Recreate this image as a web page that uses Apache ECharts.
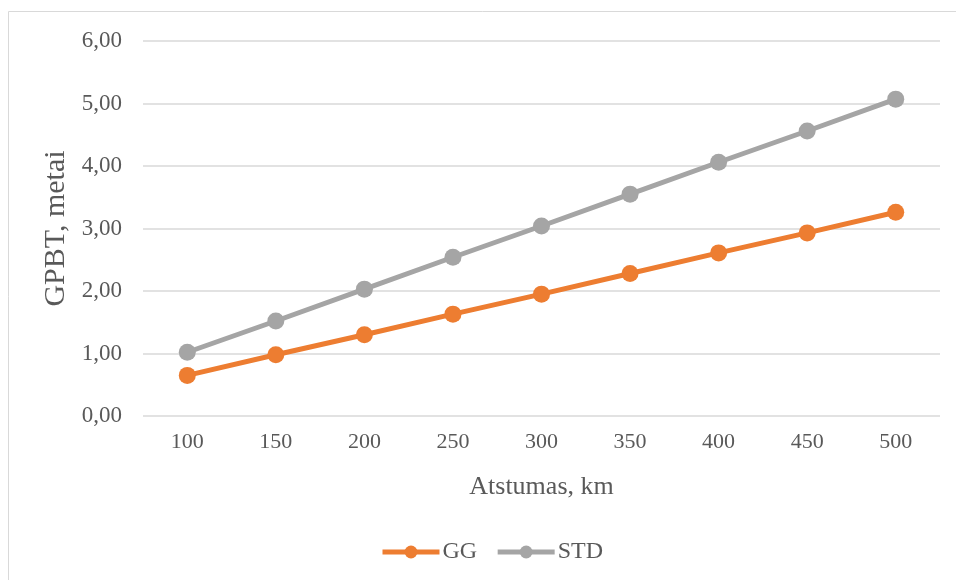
<!DOCTYPE html>
<html><head><meta charset="utf-8">
<script src="https://cdn.jsdelivr.net/npm/echarts@6/dist/echarts.min.js"></script>
<style>html,body{margin:0;padding:0;background:#fff}#c{width:956px;height:580px}</style>
</head><body><div id="c"></div>
<script>
const categories = ['100','150','200','250','300','350','400','450','500'];
const gg = [0.65, 0.98, 1.30, 1.63, 1.95, 2.28, 2.61, 2.93, 3.26];
const std = [1.02, 1.52, 2.03, 2.54, 3.04, 3.55, 4.06, 4.56, 5.07];
const font = '"Liberation Serif","Times New Roman",serif';
const chart = echarts.init(document.getElementById('c'));
chart.setOption({
  animation: false,
  textStyle: {fontFamily: font},
  graphic: [{type:'rect', shape:{x:8.5,y:11.5,width:1000,height:1000}, style:{fill:'none',stroke:'#d9d9d9',lineWidth:1}, z:-1}],
  grid: {left:143, right:16, top:41, bottom:164},
  xAxis: {
    type:'category', data: categories, boundaryGap:true,
    axisLine:{show:false}, axisTick:{show:false},
    axisLabel:{fontFamily:font, fontSize:22, color:'#595959', margin:15},
    name:'Atstumas, km', nameLocation:'middle', nameGap:58,
    nameTextStyle:{fontFamily:font, fontSize:26, color:'#595959'}
  },
  yAxis: {
    type:'value', min:0, max:6, interval:1,
    axisLine:{show:false}, axisTick:{show:false},
    splitLine:{lineStyle:{color:'#d9d9d9', width:1.5}},
    axisLabel:{fontFamily:font, fontSize:23, color:'#595959', margin:21,
      formatter: v => v.toFixed(2).replace('.', ',')},
    name:'GPBT, metai', nameLocation:'middle', nameGap:71, nameRotate:90,
    nameTextStyle:{fontFamily:font, fontSize:30, color:'#595959'}
  },
  legend: {
    top: 535, left: 375, itemWidth: 57, itemHeight: 16, itemGap: 18,
    lineStyle:{width:5},
    textStyle:{fontFamily:font, fontSize:24, color:'#595959', padding:[0,0,0,-2]},
    data:['GG','STD']
  },
  series: [
    {name:'GG', type:'line', data: gg, symbol:'circle', symbolSize:17,
     lineStyle:{width:5, color:'#ED7D31'}, itemStyle:{color:'#ED7D31'}},
    {name:'STD', type:'line', data: std, symbol:'circle', symbolSize:17,
     lineStyle:{width:5, color:'#A5A5A5'}, itemStyle:{color:'#A5A5A5'}}
  ]
});
</script></body></html>
